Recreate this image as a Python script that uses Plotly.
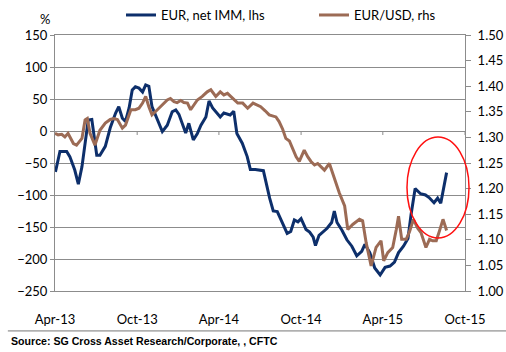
import plotly.graph_objects as go

# ---------------- data ----------------
imm_dates = [
    "2013-04-02", "2013-04-12", "2013-04-27", "2013-05-04", "2013-05-15", "2013-05-23",
    "2013-05-31", "2013-06-11", "2013-06-14", "2013-06-22", "2013-07-03", "2013-07-10",
    "2013-07-22", "2013-08-02", "2013-08-14", "2013-08-21", "2013-08-29", "2013-09-05",
    "2013-09-13", "2013-09-20", "2013-09-27", "2013-10-05", "2013-10-13", "2013-10-20",
    "2013-10-27", "2013-11-03", "2013-11-11", "2013-11-26", "2013-12-07", "2013-12-18",
    "2013-12-26", "2014-01-02", "2014-01-17", "2014-01-24", "2014-02-03", "2014-02-12",
    "2014-02-20", "2014-03-03", "2014-03-10", "2014-03-18", "2014-04-04", "2014-04-12",
    "2014-04-26", "2014-05-04", "2014-05-11", "2014-05-23", "2014-06-03", "2014-06-10",
    "2014-06-21", "2014-07-09", "2014-07-23", "2014-07-31", "2014-08-09", "2014-08-21",
    "2014-08-31", "2014-09-08", "2014-09-16", "2014-09-24", "2014-10-01", "2014-10-12",
    "2014-10-20", "2014-10-28", "2014-11-02", "2014-11-10", "2014-11-19", "2014-11-28",
    "2014-12-08", "2014-12-14", "2014-12-20", "2014-12-31", "2015-01-11", "2015-01-22",
    "2015-02-02", "2015-02-13", "2015-02-20", "2015-03-03", "2015-03-14", "2015-03-26",
    "2015-04-06", "2015-04-17", "2015-04-27", "2015-05-06", "2015-05-17", "2015-05-27",
    "2015-06-03", "2015-06-12", "2015-06-24", "2015-07-05", "2015-07-13", "2015-07-24",
    "2015-08-01", "2015-08-08", "2015-08-21",
]
imm_values = [
    -64, -32, -32, -40, -61, -83,
    -56, 2, 17, 18, -38, -38,
    -24, 5, 28, 38, 20, 15,
    36, 64, 69, 67, 61, 72,
    70, 38, 25, -1, 9, 30,
    33, 26, -3, 12, -14, -4,
    9, 22, 47, 36, 22, 28,
    25, 31, -4, -19, -40, -60,
    -60, -62, -105, -125, -126, -144,
    -160, -157, -139, -142, -137, -154,
    -158, -166, -179, -163, -158, -152,
    -143, -125, -143, -155, -170, -180,
    -195, -188, -177, -190, -214, -225,
    -213, -211, -205, -190, -180, -168,
    -130, -90, -98, -100, -104, -112,
    -105, -113, -65,
]

fx_dates = [
    "2013-04-01", "2013-04-08", "2013-04-16", "2013-04-23", "2013-04-30", "2013-05-12",
    "2013-05-19", "2013-05-31", "2013-06-07", "2013-06-12", "2013-06-18", "2013-06-29",
    "2013-07-10", "2013-07-22", "2013-08-02", "2013-08-10", "2013-08-18", "2013-08-29",
    "2013-09-05", "2013-09-17", "2013-09-27", "2013-10-05", "2013-10-13", "2013-10-20",
    "2013-10-27", "2013-11-03", "2013-11-15", "2013-11-29", "2013-12-07", "2013-12-14",
    "2013-12-22", "2013-12-29", "2014-01-06", "2014-01-13", "2014-01-21", "2014-01-28",
    "2014-02-04", "2014-02-12", "2014-02-23", "2014-03-06", "2014-03-14", "2014-03-25",
    "2014-04-04", "2014-04-12", "2014-04-20", "2014-05-02", "2014-05-13", "2014-05-24",
    "2014-06-04", "2014-06-16", "2014-06-23", "2014-07-03", "2014-07-13", "2014-07-22",
    "2014-08-06", "2014-08-13", "2014-08-21", "2014-08-28", "2014-09-05", "2014-09-12",
    "2014-09-20", "2014-09-27", "2014-10-08", "2014-10-16", "2014-10-23", "2014-10-31",
    "2014-11-07", "2014-11-14", "2014-11-22", "2014-12-03", "2014-12-08", "2014-12-14",
    "2014-12-25", "2015-01-06", "2015-01-13", "2015-01-24", "2015-02-08", "2015-02-15",
    "2015-02-23", "2015-03-06", "2015-03-17", "2015-03-28", "2015-04-03", "2015-04-12",
    "2015-04-23", "2015-05-01", "2015-05-06", "2015-05-13", "2015-05-23", "2015-05-31",
    "2015-06-08", "2015-06-18", "2015-06-25", "2015-07-06", "2015-07-14", "2015-07-21",
    "2015-07-29", "2015-08-05", "2015-08-13", "2015-08-21",
]
fx_values = [
    1.308, 1.305, 1.306, 1.301, 1.308, 1.288,
    1.285, 1.298, 1.334, 1.337, 1.308, 1.285,
    1.314, 1.328, 1.335, 1.337, 1.335, 1.318,
    1.324, 1.354, 1.354, 1.357, 1.367, 1.380,
    1.360, 1.344, 1.354, 1.367, 1.373, 1.376,
    1.370, 1.368, 1.372, 1.368, 1.367, 1.354,
    1.363, 1.373, 1.380, 1.389, 1.393, 1.380,
    1.389, 1.383, 1.386, 1.376, 1.367, 1.367,
    1.357, 1.367, 1.364, 1.360, 1.352, 1.344,
    1.340, 1.331, 1.316, 1.298, 1.293, 1.279,
    1.262, 1.253, 1.275, 1.262, 1.253, 1.246,
    1.249, 1.243, 1.236, 1.249, 1.236, 1.225,
    1.192, 1.166, 1.120, 1.130, 1.140, 1.137,
    1.094, 1.049, 1.085, 1.098, 1.059, 1.075,
    1.085, 1.120, 1.146, 1.101, 1.101, 1.117,
    1.140, 1.122, 1.114, 1.085, 1.101, 1.098,
    1.098, 1.117, 1.140, 1.118,
]

tick_dates = ["2013-04-01", "2013-10-01", "2014-04-01", "2014-10-01", "2015-04-01", "2015-10-01"]
tick_labels = ["Apr-13", "Oct-13", "Apr-14", "Oct-14", "Apr-15", "Oct-15"]

left_ticks = [-250, -200, -150, -100, -50, 0, 50, 100, 150]
right_ticks = [1.00, 1.05, 1.10, 1.15, 1.20, 1.25, 1.30, 1.35, 1.40, 1.45, 1.50]

# ---------------- styling ----------------
BLUE = "#0d2f6b"
BROWN = "#9c6b55"
GRID = "#8c8c8c"
FONT = "Lato"

fig = go.Figure()
fig.add_trace(go.Scatter(x=imm_dates, y=imm_values, name="EUR, net IMM, lhs",
                         mode="lines", line=dict(color=BLUE, width=3)))
fig.add_trace(go.Scatter(x=fx_dates, y=fx_values, name="EUR/USD, rhs", yaxis="y2",
                         mode="lines", line=dict(color=BROWN, width=3)))

# tick marks on the zero line (category axis crosses at 0)
shapes = []
for d in tick_dates[1:]:
    shapes.append(dict(type="line", xref="x", yref="y", x0=d, x1=d,
                       ysizemode="pixel", yanchor=0, y0=0, y1=-4,
                       line=dict(color=GRID, width=1)))
# red highlight ellipse
shapes.append(dict(type="circle", xref="paper", yref="paper",
                   x0=0.8585, x1=1.0098, y0=0.207, y1=0.6016,
                   line=dict(color="#ff1010", width=1.5)))
# separator line above the source
shapes.append(dict(type="line", xref="paper", yref="paper",
                   x0=-0.115, x1=1.1, y0=-0.156, y1=-0.156,
                   line=dict(color="#777777", width=1)))

fig.update_layout(
    width=506, height=352,
    margin=dict(l=55, r=41, t=35, b=61, autoexpand=False),
    paper_bgcolor="white", plot_bgcolor="white",
    font=dict(family=FONT, size=13, color="black"),
    showlegend=True,
    legend=dict(orientation="h", x=0.161, xanchor="left", y=1.078, yanchor="middle",
                font=dict(family=FONT, size=13), bgcolor="rgba(0,0,0,0)",
                itemwidth=30, tracegroupgap=0, entrywidth=148, entrywidthmode="pixels"),
    xaxis=dict(type="date", range=["2013-04-01", "2015-10-01"],
               tickvals=tick_dates, ticktext=tick_labels, ticks="",
               showgrid=False, showline=True, mirror=True, linecolor=GRID, linewidth=1,
               ticklabelstandoff=16, zeroline=False),
    yaxis=dict(range=[-250, 150], tickvals=left_ticks, ticks="outside", ticklen=4,
               tickcolor=GRID, showgrid=True, gridcolor=GRID, gridwidth=1,
               zeroline=True, zerolinecolor=GRID, zerolinewidth=1,
               showline=True, linecolor=GRID, linewidth=1),
    yaxis2=dict(range=[1.0, 1.5], tickvals=right_ticks, tickformat=".2f",
                overlaying="y", side="right", ticks="outside", ticklen=5,
                tickcolor=GRID, showgrid=False, zeroline=False,
                showline=True, linecolor=GRID, linewidth=1, ticklabelstandoff=4),
    shapes=shapes,
    annotations=[
        dict(text="%", xref="paper", yref="paper", x=-0.024, y=1.064,
             xanchor="center", yanchor="middle", showarrow=False,
             font=dict(family=FONT, size=13)),
        dict(text="<b>Source: SG Cross Asset Research/Corporate, , CFTC</b>",
             xref="paper", yref="paper", x=-0.112, y=-0.195,
             xanchor="left", yanchor="middle", showarrow=False,
             font=dict(family="Liberation Sans", size=10.6)),
    ],
)

fig.write_html("out.html")
